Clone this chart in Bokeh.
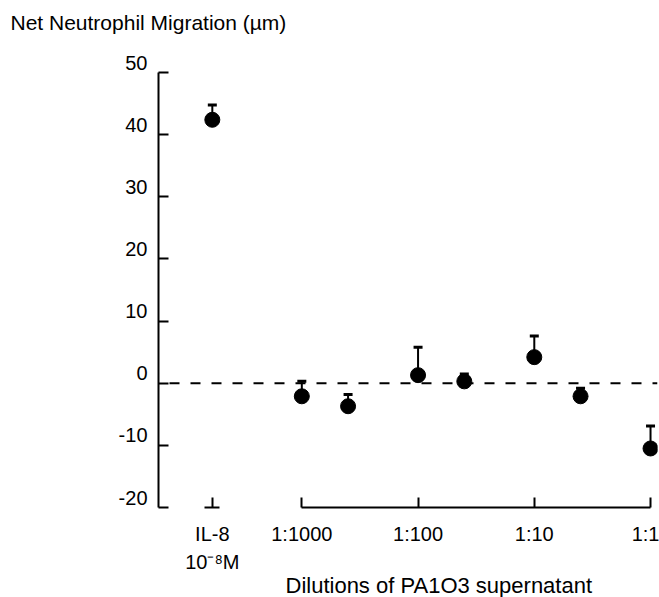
from bokeh.plotting import figure
from bokeh.models import (ColumnDataSource, Range1d, LinearAxis, FixedTicker,
                          Whisker, TeeHead, Span, Title)
from bokeh.embed import file_html
from bokeh.resources import INLINE
import numpy as np

# ---------------- data ----------------
dilutions = [1000, 400, 100, 40, 10, 4, 1]            # 1:N dilution of PA1O3 supernatant
dil_mean = [-2.1, -3.7, 1.3, 0.3, 4.2, -2.1, -10.5]   # net migration (um)
dil_sem = [2.4, 1.9, 4.5, 1.2, 3.4, 1.3, 3.6]
il8_mean = [42.4]                                      # IL-8 10^-8 M control
il8_sem = [2.4]

x_ticks = [-3, -2, -1, 0]                              # log10 of dilution
x_tick_labels = ["1:1000", "1:100", "1:10", "1:1"]
il8_label = "IL-8\n10\u207b\u2078M"
y_ticks = [-20, -10, 0, 10, 20, 30, 40, 50]
y_tick_labels = [str(v) for v in y_ticks]
y_title = "Net Neutrophil Migration (\u00b5m)"
x_title = "Dilutions of PA1O3 supernatant"

# ---------------- layout constants ----------------
FONT = "Liberation Sans"
W, H = 659, 597
BL, BT, BR, BB = 158, 41, 2, 90
X_START, X_END = -4.233, 0.06
Y_START, Y_END, Y_TOP = -20, 50, 55
IL8_X = -3.77            # position of the IL-8 control on the x scale
px_per_y = (H - BT - BB) / (Y_TOP - Y_START)
px_per_x = (W - BL - BR) / (X_END - X_START)
LABEL_SHIFT = 10.0 / px_per_y   # y tick labels sit a little above their ticks

x_dil = [-np.log10(d) for d in dilutions]

p = figure(width=W, height=H, output_backend="svg", toolbar_location=None,
           x_range=Range1d(X_START, X_END), y_range=Range1d(Y_START, Y_TOP),
           x_axis_location=None, y_axis_location=None, title=y_title,
           min_border_left=BL, min_border_top=BT, min_border_right=BR, min_border_bottom=BB)
p.grid.visible = False
p.outline_line_color = None
p.background_fill_color = "white"
p.border_fill_color = "white"

p.title.align = "left"
p.title.offset = -148
p.title.standoff = 15
p.title.vertical_align = "bottom"
p.title.text_font = FONT
p.title.text_font_size = "21px"
p.title.text_font_style = "normal"
p.title.text_color = "black"

label_style = dict(major_label_text_font=FONT, major_label_text_color="black",
                   major_label_text_font_size="20px")
no_ticks = FixedTicker(ticks=[], minor_ticks=[])

# ---- y axis: line with inward ticks (minor ticks, no labels) ----
yax = LinearAxis(bounds=(Y_START, Y_END),
                 ticker=FixedTicker(ticks=[], minor_ticks=y_ticks),
                 major_tick_line_color=None, major_tick_out=0, major_tick_in=0,
                 minor_tick_in=10, minor_tick_out=0,
                 minor_tick_line_width=2, minor_tick_line_color="black",
                 axis_line_width=2, axis_line_color="black")
p.add_layout(yax, "left")

# ---- y tick labels, slightly above their ticks ----
y_label_pos = [v + LABEL_SHIFT for v in y_ticks]
ylab = LinearAxis(ticker=FixedTicker(ticks=y_label_pos),
                  major_label_overrides={pos: l for pos, l in zip(y_label_pos, y_tick_labels)},
                  axis_line_color=None, major_tick_line_color=None, minor_tick_line_color=None,
                  major_tick_in=0, major_tick_out=0, major_label_standoff=11, **label_style)
p.add_layout(ylab, "left")

# ---- x axis lines: dilution scale and the short IL-8 base ----
half = 7.5 / px_per_x
for b in [(x_ticks[0], x_ticks[-1]), (IL8_X - half, IL8_X + half)]:
    p.add_layout(LinearAxis(bounds=b, ticker=no_ticks,
                            major_tick_line_color=None, minor_tick_line_color=None,
                            major_tick_in=0, major_tick_out=0,
                            axis_line_width=2, axis_line_color="black"), "below")

# ---- x ticks and labels (IL-8 control and dilutions) ----
x_label_pos = [IL8_X] + x_ticks
x_label_txt = [il8_label] + x_tick_labels
xlab = LinearAxis(ticker=FixedTicker(ticks=x_label_pos, minor_ticks=x_label_pos),
                  major_label_overrides={pos: l for pos, l in zip(x_label_pos, x_label_txt)},
                  axis_line_color=None, major_tick_line_color=None,
                  major_tick_in=0, major_tick_out=0,
                  minor_tick_in=10, minor_tick_out=0,
                  minor_tick_line_width=2, minor_tick_line_color="black",
                  major_label_text_line_height=1.3,
                  major_label_standoff=15, **label_style)
p.add_layout(xlab, "below")

# ---- x axis title ----
p.add_layout(Title(text=x_title, align="left", offset=127, standoff=-11,
                   vertical_align="bottom", text_font=FONT, text_font_size="22px",
                   text_font_style="normal", text_color="black"), "below")

# baseline at zero
p.add_layout(Span(location=0, dimension="width", line_color="black", line_width=2,
                  line_dash="10 11", line_dash_offset=10))

# data
src = ColumnDataSource(dict(
    x=[IL8_X] + x_dil,
    m=il8_mean + dil_mean,
    up=[a + b for a, b in zip(il8_mean + dil_mean, il8_sem + dil_sem)],
))
p.add_layout(Whisker(source=src, base="x", lower="m", upper="up", dimension="height",
                     line_color="black", line_width=2, lower_head=None,
                     upper_head=TeeHead(size=9, line_width=3, line_color="black")))
p.scatter(x="x", y="m", source=src, size=15, marker="circle",
          fill_color="black", line_color="black")

open("out.html", "w").write(file_html(p, INLINE))
